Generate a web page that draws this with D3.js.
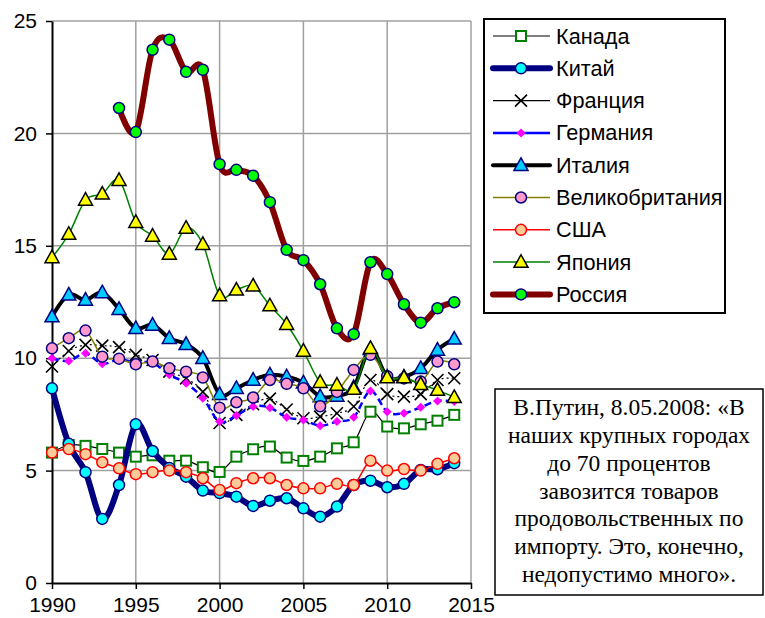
<!DOCTYPE html>
<html><head><meta charset="utf-8">
<script src="https://cdn.jsdelivr.net/npm/d3@7/dist/d3.min.js"></script>
<style>body{margin:0;background:#fff;} svg{display:block;}</style>
</head><body>
<svg id="c" width="765" height="618"></svg>
<script>
const years = [1990,1991,1992,1993,1994,1995,1996,1997,1998,1999,2000,2001,2002,2003,2004,2005,2006,2007,2008,2009,2010,2011,2012,2013,2014];
const xTicks = [1990,1995,2000,2005,2010,2015];
const yTicks = [0,5,10,15,20,25];
const canada  = [5.80,6.14,6.10,5.96,5.80,5.62,5.68,5.44,5.44,5.15,4.94,5.62,5.95,6.07,5.58,5.43,5.62,5.99,6.26,7.62,6.96,6.88,7.06,7.22,7.48];
const china   = [8.66,6.19,4.93,2.85,4.36,7.06,5.87,5.12,4.73,4.11,4.00,3.84,3.43,3.66,3.77,3.32,2.95,3.40,4.36,4.55,4.26,4.41,5.03,5.06,5.33];
const france  = [9.63,10.32,10.59,10.56,10.49,10.15,9.92,9.40,9.10,8.50,7.12,7.48,7.95,8.20,7.72,7.33,7.40,7.55,7.85,9.03,8.40,8.29,8.40,9.03,9.11];
const germany = [10.00,9.88,10.22,9.75,9.95,9.80,9.80,9.26,8.89,8.22,7.18,7.45,7.85,7.80,7.37,7.25,7.00,7.18,7.37,8.54,7.62,7.55,7.82,8.10,8.07];
const italy   = [11.85,12.82,12.59,12.92,12.18,11.33,11.48,10.89,10.62,10.00,8.40,8.66,9.03,9.26,9.18,8.91,8.30,8.32,8.70,10.40,9.17,9.17,9.55,10.37,10.86];
const uk      = [10.44,10.89,11.23,10.07,9.98,9.73,9.85,9.55,9.40,9.14,7.80,8.04,8.25,9.03,8.86,8.66,7.86,8.50,9.48,10.15,9.20,9.10,8.96,9.85,9.73];
const usa     = [5.80,5.96,5.73,5.37,5.10,4.84,4.93,5.00,4.93,4.66,4.14,4.44,4.66,4.66,4.36,4.21,4.21,4.41,4.36,5.44,5.00,5.07,5.00,5.30,5.55];
const japan   = [14.48,15.52,17.04,17.31,17.92,16.05,15.44,14.64,15.79,15.07,12.79,13.04,13.22,12.34,11.51,10.32,8.93,8.81,8.63,10.44,9.14,9.14,8.84,8.58,8.26];
const russia  = [null,null,null,null,21.13,20.06,23.72,24.17,22.74,22.83,18.63,18.38,18.12,16.94,14.82,14.36,13.29,11.33,11.07,14.27,13.74,12.40,11.58,12.22,12.49];
const names = ["Канада","Китай","Франция","Германия","Италия","Великобритания","США","Япония","Россия"];
const quote = ["В.Путин, 8.05.2008: «В","наших крупных городах","до 70 процентов","завозится товаров","продовольственных по","импорту. Это, конечно,","недопустимо много»."];

const series = [
  {name:names[0], values:canada,  line:"#000", lw:1.2, dash:null, marker:"square", fill:"#fff", stroke:"#008000", ms:10},
  {name:names[1], values:china,   line:"#000080", lw:6, dash:null, marker:"circle", fill:"#00ffff", stroke:"#000080", ms:5.5},
  {name:names[2], values:france,  line:"#000", lw:1.2, dash:"2,3", marker:"x", fill:"none", stroke:"#000", ms:6},
  {name:names[3], values:germany, line:"#0000ff", lw:2.5, dash:"7,4", marker:"diamond", fill:"#ff00ff", stroke:"none", ms:4.5},
  {name:names[4], values:italy,   line:"#000", lw:4, dash:null, marker:"triangle", fill:"#00ccff", stroke:"#000080", ms:7},
  {name:names[5], values:uk,      line:"#808000", lw:1.5, dash:null, marker:"circle", fill:"#ff99cc", stroke:"#000080", ms:5.5},
  {name:names[6], values:usa,     line:"#ff0000", lw:1.5, dash:null, marker:"circle", fill:"#ffcc99", stroke:"#ff0000", ms:5.5},
  {name:names[7], values:japan,   line:"#008000", lw:1.5, dash:null, marker:"triangle", fill:"#ffff00", stroke:"#000", ms:7},
  {name:names[8], values:russia,  line:"#800000", lw:6, dash:null, marker:"circle", fill:"#00ff00", stroke:"#000080", ms:5.5}
];

const svg = d3.select("#c");
const L=52, R=471, T=21, B=583;
const x = d3.scaleLinear().domain([1990,2015]).range([L,R]);
const y = d3.scaleLinear().domain([0,25]).range([B,T]);

// grid
const g = svg.append("g");
g.selectAll(".hg").data(yTicks.filter(d=>d>0)).join("line")
  .attr("x1",L).attr("x2",R).attr("y1",d=>y(d)).attr("y2",d=>y(d))
  .attr("stroke","#a0a0a0").attr("stroke-width",1.5);
g.selectAll(".vg").data(xTicks.filter(d=>d>1990)).join("line")
  .attr("y1",T).attr("y2",B).attr("x1",d=>x(d)).attr("x2",d=>x(d))
  .attr("stroke","#a0a0a0").attr("stroke-width",1.5);

// axes
const xa = svg.append("g").attr("transform",`translate(0,${B})`)
  .call(d3.axisBottom(x).tickValues(xTicks).tickFormat(d3.format("d")).tickSize(6).tickSizeOuter(0));
const ya = svg.append("g").attr("transform",`translate(${L},0)`)
  .call(d3.axisLeft(y).tickValues(yTicks).tickSize(6).tickSizeOuter(0));
[xa,ya].forEach(a=>{
  a.select(".domain").attr("stroke","#000").attr("stroke-width",2);
  a.selectAll(".tick line").attr("stroke","#000").attr("stroke-width",1.5);
  a.selectAll(".tick text").attr("font-family","Liberation Sans, Arial, sans-serif").attr("font-size",21).attr("fill","#000");
});
xa.selectAll(".tick text").attr("dy","0.95em");
ya.selectAll(".tick text").attr("x",-15);

const line = d3.line().defined(d=>d.v!=null).x(d=>x(d.y)).y(d=>y(d.v)).curve(d3.curveCardinal.tension(0));

function drawMarker(sel, s, cx, cy){
  const m = s.ms;
  if(s.marker==="circle"){
    sel.append("circle").attr("cx",cx).attr("cy",cy).attr("r",m).attr("fill",s.fill).attr("stroke",s.stroke).attr("stroke-width",1.5);
  } else if(s.marker==="square"){
    sel.append("rect").attr("x",cx-m/2).attr("y",cy-m/2).attr("width",m).attr("height",m).attr("fill",s.fill).attr("stroke",s.stroke).attr("stroke-width",2);
  } else if(s.marker==="triangle"){
    sel.append("path").attr("d",`M${cx},${cy-m*1.05}L${cx+m},${cy+m*0.75}L${cx-m},${cy+m*0.75}Z`).attr("fill",s.fill).attr("stroke",s.stroke).attr("stroke-width",1.5);
  } else if(s.marker==="diamond"){
    sel.append("path").attr("d",`M${cx},${cy-m}L${cx+m},${cy}L${cx},${cy+m}L${cx-m},${cy}Z`).attr("fill",s.fill);
  } else if(s.marker==="x"){
    sel.append("path").attr("d",`M${cx-m},${cy-m}L${cx+m},${cy+m}M${cx-m},${cy+m}L${cx+m},${cy-m}`).attr("stroke",s.stroke).attr("stroke-width",1.6);
  }
}

series.forEach(s=>{
  const pts = years.map((yr,i)=>({y:yr, v:s.values[i]}));
  const sg = svg.append("g");
  sg.append("path").datum(pts).attr("d",line).attr("fill","none")
    .attr("stroke",s.line).attr("stroke-width",s.lw).attr("stroke-dasharray",s.dash)
    .attr("stroke-linejoin","round").attr("stroke-linecap", s.dash?"butt":"round");
  pts.filter(p=>p.v!=null).forEach(p=>drawMarker(sg, s, x(p.y), y(p.v)));
});

// legend
const lg = svg.append("g");
lg.append("rect").attr("x",484).attr("y",19).attr("width",241).attr("height",294).attr("fill","#fff").attr("stroke","#000").attr("stroke-width",2);
series.forEach((s,i)=>{
  const cy = 36 + i*32.3;
  lg.append("line").attr("x1",493).attr("x2",550).attr("y1",cy).attr("y2",cy)
    .attr("stroke",s.line).attr("stroke-width",s.lw).attr("stroke-linecap",s.lw>3?"round":"butt");
  drawMarker(lg, s, 521, cy);
  lg.append("text").attr("x",556).attr("y",cy).attr("dy","0.35em").text(s.name)
    .attr("font-family","Liberation Sans, Arial, sans-serif").attr("font-size",21.7).attr("fill","#000");
});

// quote box
const qb = svg.append("g");
qb.append("rect").attr("x",495).attr("y",389).attr("width",268).attr("height",206).attr("fill","#fff").attr("stroke","#000").attr("stroke-width",1.5);
quote.forEach((t,i)=>{
  qb.append("text").attr("x",629).attr("y",407+i*27.8).attr("dy","0.35em").attr("text-anchor","middle")
    .attr("font-family","Liberation Serif, Times New Roman, serif").attr("font-size",23.5).attr("fill","#000").text(t);
});
</script>
</body></html>
